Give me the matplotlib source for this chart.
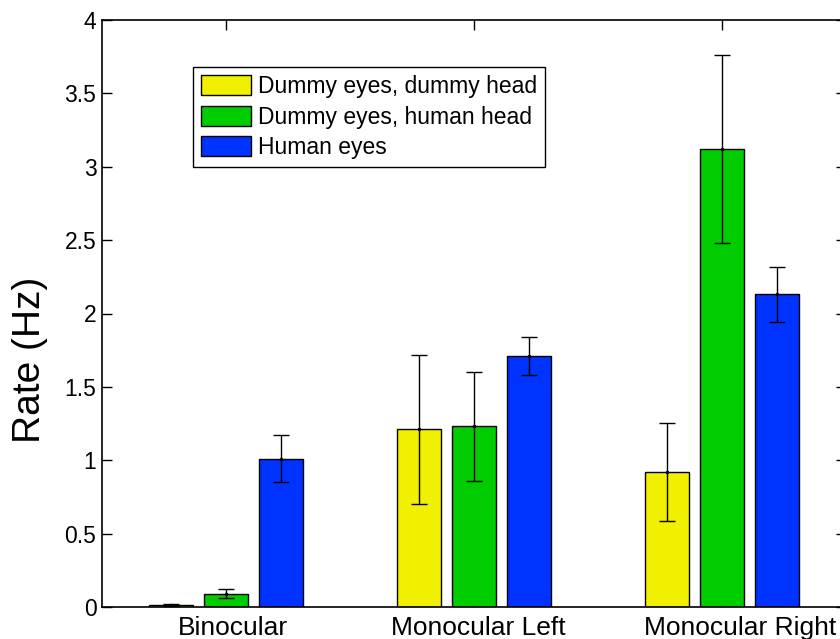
import numpy as np
import matplotlib
matplotlib.use('Agg')
import matplotlib.pyplot as plt
import matplotlib.transforms as mtransforms

plt.rcParams['font.family'] = ['Liberation Sans', 'DejaVu Sans']

# Data
groups = ['Binocular', 'Monocular Left', 'Monocular Right']
series = ['Dummy eyes, dummy head', 'Dummy eyes, human head', 'Human eyes']
dummy_dummy = [0.015, 1.21, 0.92]
dummy_human = [0.09, 1.23, 3.12]
human_eyes = [1.01, 1.71, 2.13]
err_dummy_dummy = [0.005, 0.51, 0.335]
err_dummy_human = [0.03, 0.37, 0.64]
err_human_eyes = [0.16, 0.13, 0.185]

colors = ['#f0f000', '#00cc00', '#0033ff']
values = [dummy_dummy, dummy_human, human_eyes]
errors = [err_dummy_dummy, err_dummy_human, err_human_eyes]

# the original export drew the group labels slightly right of the ticks
label_shift_px = [7, 4, 18]

fig = plt.figure(figsize=(8.4, 6.39), dpi=100)
ax = fig.add_axes([102 / 840, 32 / 639, 744 / 840, 587 / 639])

x = np.arange(1, len(groups) + 1)
offsets = [-0.222, 0.0, 0.222]
width = 0.178

for vals, errs, col, off, name in zip(values, errors, colors, offsets, series):
    ax.bar(x + off, vals, width, color=col, edgecolor='black', linewidth=1.0, label=name, zorder=2)
    ax.errorbar(x + off, vals, yerr=errs, fmt='.', color='black', ecolor='black',
                elinewidth=1.0, capsize=5.5, capthick=1.0, markersize=3, zorder=3)

ax.set_xlim(0.5, 3.5)
ax.set_ylim(0, 4)
ax.set_xticks(x)
ax.set_xticklabels(groups)
ax.set_yticks(np.arange(0, 4.01, 0.5))
ax.set_yticklabels(['0', '0.5', '1', '1.5', '2', '2.5', '3', '3.5', '4'])
ax.tick_params(direction='in', top=True, right=True, length=7, width=1)
ax.tick_params(axis='y', labelsize=16.5, pad=4)
ax.tick_params(axis='x', labelsize=19, pad=6.5)
for lab, dx in zip(ax.get_xticklabels(), label_shift_px):
    lab.set_transform(lab.get_transform() + mtransforms.ScaledTranslation(dx / 100, 0, fig.dpi_scale_trans))
for s in ax.spines.values():
    s.set_linewidth(1.2)
ax.set_ylabel('Rate (Hz)', fontsize=28)
ax.yaxis.set_label_coords((48 - 102) / 744, (607 - 360) / 587)

leg = ax.legend(loc='upper left', bbox_to_anchor=(0.122, 0.92), borderaxespad=0,
                fontsize=16.5, fancybox=False, framealpha=1, edgecolor='black',
                handlelength=2.2, handleheight=0.95, handletextpad=0.3,
                labelspacing=0.33, borderpad=0.35)
leg.get_frame().set_linewidth(1.0)

fig.savefig('out.png', dpi=100)
